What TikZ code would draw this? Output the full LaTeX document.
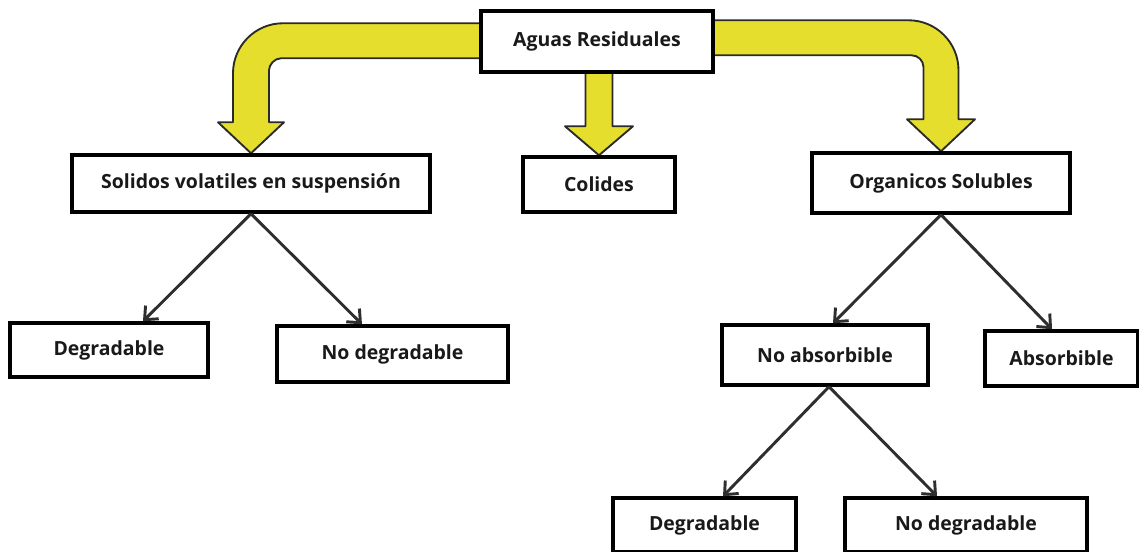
\documentclass[tikz,border=0pt]{standalone}
\usepackage{fontspec}
\setmainfont{Open Sans}
\usetikzlibrary{arrows.meta,backgrounds}
\definecolor{ylw}{HTML}{E6DE2C}
\definecolor{outl}{HTML}{2A2A2A}
\definecolor{lnk}{HTML}{2E2E2E}
\tikzset{
  box/.style={draw=black, line width=2.6pt, fill=white, inner sep=0pt,
    font=\bfseries\fontsize{14.6}{17}\selectfont, text=black!90},
  yarrow/.style={fill=ylw, draw=outl, line width=1.4pt, line join=round},
  link/.style={draw=lnk, line width=2.2pt, -{Straight Barb[length=8pt,width=14pt,line width=2.2pt]}}
}
\begin{document}
\begin{tikzpicture}[x=0.75pt,y=-0.75pt]
\useasboundingbox (0,0) rectangle (1139,552);
% nodes
\node[box, minimum width=232*0.75pt, minimum height=61*0.75pt] (ag) at (597,41.5) {Aguas Residuales};
\node[box, minimum width=358*0.75pt, minimum height=57*0.75pt] (sol) at (251,183.5) {Solidos volatiles en suspensión};
\node[box, minimum width=152*0.75pt, minimum height=55*0.75pt] (col) at (599,184.5) {Colides};
\node[box, minimum width=258*0.75pt, minimum height=60*0.75pt] (org) at (941,183) {Organicos Solubles};
\node[box, minimum width=198*0.75pt, minimum height=54*0.75pt] (d1) at (109,350) {Degradable};
\node[box, minimum width=231*0.75pt, minimum height=56*0.75pt] (nd1) at (392.5,354) {No degradable};
\node[box, minimum width=206*0.75pt, minimum height=60*0.75pt] (nab) at (825,355) {No absorbible};
\node[box, minimum width=153*0.75pt, minimum height=55*0.75pt] (ab) at (1061.5,358.5) {Absorbible};
\node[box, minimum width=183*0.75pt, minimum height=54*0.75pt] (d2) at (704.5,525) {Degradable};
\node[box, minimum width=242*0.75pt, minimum height=54*0.75pt] (nd2) at (966,525) {No degradable};
% yellow block arrows (behind the boxes)
\begin{scope}[on background layer]
\begin{scope}[shift={(sol.north)}]
\draw[yarrow] (0,0) -- (-33,-31) -- (-18,-31) -- (-18,-80)
  .. controls (-18,-107.6) and (4.4,-130) .. (32,-130) -- (245,-130) -- (245,-95) -- (30,-95)
  .. controls (23.4,-95) and (18,-88.4) .. (18,-83) -- (18,-31) -- (33,-31) -- cycle;
\end{scope}
\begin{scope}[shift={(org.north)}]
\draw[yarrow] (0,0) -- (34,-32) -- (17.5,-32) -- (17.5,-81)
  .. controls (17.5,-108.6) and (-4.9,-131) .. (-32.5,-131) -- (-238,-131) -- (-238,-96) -- (-29.5,-96)
  .. controls (-22.9,-96) and (-17.5,-90.6) .. (-17.5,-84) -- (-17.5,-32) -- (-34,-32) -- cycle;
\end{scope}
\begin{scope}[shift={(col.north)}]
\draw[yarrow] (0,0) -- (34,-29) -- (13.5,-29) -- (13.5,-95) -- (-13.5,-95) -- (-13.5,-29) -- (-34,-29) -- cycle;
\end{scope}
\end{scope}
% thin arrows
\draw[link] (sol.south) -- ([xshift=25.5pt]d1.north);
\draw[link] (sol.south) -- ([xshift=-22.9pt]nd1.north);
\draw[link] (org.south) -- ([xshift=6pt]nab.north);
\draw[link] (org.south) -- ([xshift=-7.1pt]ab.north);
\draw[link] ([xshift=3pt]nab.south) -- ([xshift=13.9pt]d2.north);
\draw[link] ([xshift=3pt]nab.south) -- ([xshift=-21.75pt]nd2.north);
\end{tikzpicture}
\end{document}
